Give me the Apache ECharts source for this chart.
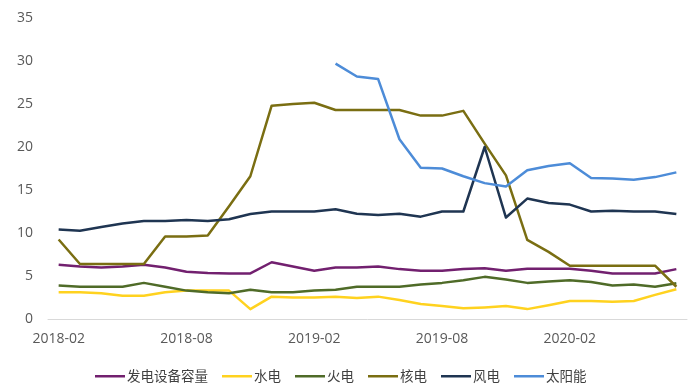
<!DOCTYPE html>
<html>
<head>
<meta charset="utf-8">
<script src="https://cdn.jsdelivr.net/npm/echarts@6/dist/echarts.min.js"></script>
<style>
  html, body { margin: 0; padding: 0; background: #fff; }
  #chart { width: 693px; height: 389px; }
</style>
</head>
<body>
<div id="chart"></div>
<script>
// Monthly categories
const months = [
  '2018-02','2018-03','2018-04','2018-05','2018-06','2018-07','2018-08','2018-09','2018-10','2018-11',
  '2018-12','2019-01','2019-02','2019-03','2019-04','2019-05','2019-06','2019-07','2019-08','2019-09',
  '2019-10','2019-11','2019-12','2020-01','2020-02','2020-03','2020-04','2020-05','2020-06','2020-07'
];

const capacityTotal = [6.3, 6.1, 6.0, 6.1, 6.3, 6.0, 5.5, 5.35, 5.3, 5.3,
  6.6, 6.1, 5.6, 6.0, 6.0, 6.1, 5.8, 5.6, 5.6, 5.8,
  5.9, 5.6, 5.85, 5.85, 5.85, 5.6, 5.3, 5.3, 5.3, 5.8];

const hydro = [3.1, 3.1, 3.0, 2.7, 2.7, 3.1, 3.3, 3.3, 3.3, 1.15,
  2.6, 2.5, 2.5, 2.6, 2.45, 2.6, 2.2, 1.75, 1.5, 1.25,
  1.35, 1.5, 1.15, 1.6, 2.1, 2.1, 2.0, 2.1, 2.8, 3.45];

const thermal = [3.9, 3.75, 3.75, 3.75, 4.2, 3.75, 3.3, 3.1, 3.0, 3.4,
  3.1, 3.1, 3.3, 3.4, 3.75, 3.75, 3.75, 4.0, 4.2, 4.5,
  4.9, 4.6, 4.2, 4.35, 4.5, 4.3, 3.9, 4.0, 3.75, 4.15];

const nuclear = [9.25, 6.4, 6.4, 6.4, 6.4, 9.6, 9.6, 9.7, 13.1, 16.6,
  24.8, 25.0, 25.15, 24.3, 24.3, 24.3, 24.3, 23.65, 23.65, 24.2,
  20.4, 16.7, 9.2, 7.8, 6.2, 6.2, 6.2, 6.2, 6.2, 3.75];

const wind = [10.4, 10.27, 10.7, 11.1, 11.4, 11.4, 11.5, 11.4, 11.6, 12.2,
  12.5, 12.5, 12.5, 12.75, 12.25, 12.1, 12.25, 11.9, 12.5, 12.5,
  20.0, 11.8, 14.0, 13.5, 13.3, 12.5, 12.6, 12.5, 12.5, 12.2];

const solar = [null, null, null, null, null, null, null, null, null, null,
  null, null, null, 29.7, 28.2, 27.9, 20.9, 17.6, 17.5, 16.6,
  15.8, 15.4, 17.3, 17.8, 18.1, 16.4, 16.35, 16.2, 16.5, 17.05];

const seriesNames = ['发电设备容量', '水电', '火电', '核电', '风电', '太阳能'];
const seriesData = [capacityTotal, hydro, thermal, nuclear, wind, solar];
const seriesColors = ['#72206f', '#ffd21f', '#4f6b28', '#7a6e12', '#1f3552', '#4d8cd8'];

const chart = echarts.init(document.getElementById('chart'), null, { renderer: 'canvas' });

chart.setOption({
  animation: false,
  backgroundColor: '#ffffff',
  textStyle: { fontFamily: '"Noto Sans CJK SC", "Open Sans", sans-serif' },
  grid: { left: 48, right: 6, top: 18, bottom: 70, containLabel: false },
  legend: {
    data: seriesNames,
    bottom: 1,
    left: 90,
    icon: 'rect',
    itemWidth: 30,
    itemHeight: 2.5,
    itemGap: 14,
    textStyle: { color: '#404040', fontSize: 13.5, padding: [0, 0, 0, -3] }
  },
  xAxis: {
    type: 'category',
    data: months,
    boundaryGap: true,
    axisLine: { show: true, lineStyle: { color: '#d9d9d9', width: 1 } },
    axisTick: { show: false },
    axisLabel: {
      interval: 5,
      color: '#595959',
      fontSize: 14,
      margin: 13,
      fontFamily: '"Open Sans", sans-serif'
    },
    splitLine: { show: false }
  },
  yAxis: {
    type: 'value',
    min: 0,
    max: 35,
    interval: 5,
    axisLine: { show: false },
    axisTick: { show: false },
    splitLine: { show: false },
    axisLabel: {
      color: '#595959',
      fontSize: 14,
      margin: 15,
      fontFamily: '"Open Sans", sans-serif'
    }
  },
  series: seriesNames.map((name, i) => ({
    name: name,
    type: 'line',
    data: seriesData[i],
    showSymbol: false,
    symbol: 'none',
    connectNulls: false,
    color: seriesColors[i],
    lineStyle: { width: 2.5, color: seriesColors[i], join: 'round' }
  }))
});
</script>
</body>
</html>
